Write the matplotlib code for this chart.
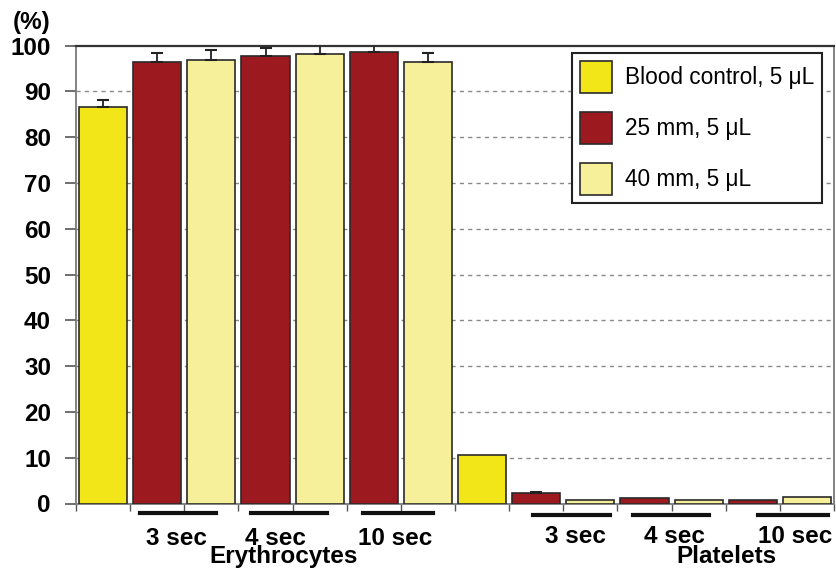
import matplotlib
matplotlib.use("Agg")
import matplotlib.pyplot as plt
from matplotlib.patches import Patch
import numpy as np

plt.rcParams['font.family'] = ['Liberation Sans', 'DejaVu Sans']

# ---- data ----
series = ["Blood control, 5 \u03bcL", "25 mm, 5 \u03bcL", "40 mm, 5 \u03bcL"]
colors = ["#F2E619", "#9C1A1F", "#F6F09A"]
cell_groups = ["Erythrocytes", "Platelets"]
times = ["3 sec", "4 sec", "10 sec"]

# bar order within each cell group: control, 25mm 3s, 40mm 3s, 25mm 4s, 40mm 4s, 25mm 10s, 40mm 10s
ery_values = [86.6, 96.4, 96.9, 97.7, 98.2, 98.6, 96.4]
ery_errors = [1.6, 1.9, 2.1, 1.8, 2.1, 1.9, 1.9]
plt_values = [10.6, 2.4, 0.8, 1.1, 0.8, 0.8, 1.5]
plt_errors = [0.0, 0.1, 0.0, 0.0, 0.0, 0.0, 0.0]
series_index = [0, 1, 2, 1, 2, 1, 2]

yticks = [0, 10, 20, 30, 40, 50, 60, 70, 80, 90, 100]

values = ery_values + plt_values
errors = ery_errors + plt_errors
bar_colors = [colors[s] for s in series_index] * 2
x = np.arange(len(values))

FS = 17.5

fig = plt.figure(figsize=(8.36, 5.70), dpi=100)
ax = fig.add_axes([76/836, 1-503.5/570, (834-76)/836, (503.5-45.7)/570])

ax.bar(x, values, width=0.89, color=bar_colors, edgecolor="#2a2a2a", linewidth=1.2, zorder=3)
err_mask = np.array(errors) > 0
ax.errorbar(x[err_mask], np.array(values)[err_mask], yerr=[np.zeros(err_mask.sum()), np.array(errors)[err_mask]],
            fmt="none", ecolor="#222222", elinewidth=1.3, capsize=4, capthick=1.5, zorder=4)

ax.set_xlim(-0.5, len(values) - 0.5)
ax.set_ylim(0, 100)
ax.set_yticks(yticks)
ax.set_yticklabels([str(t) for t in yticks], fontsize=FS, fontweight="bold")
for t in yticks[1:-1]:
    ax.axhline(t, color="#8a8a8a", linestyle=(0, (3, 3)), linewidth=1.0, zorder=1)

ax.set_xticks(np.arange(len(values) + 1) - 0.5)
ax.set_xticklabels([])
ax.tick_params(axis="x", direction="out", length=5, color="#555555", width=1)
ax.tick_params(axis="y", direction="out", length=8, color="#555555", width=1.2, pad=10)

for s in ["left", "bottom", "right"]:
    ax.spines[s].set_color("#7a7a7a")
    ax.spines[s].set_linewidth(1.3)
ax.spines["top"].set_color("#333333")
ax.spines["top"].set_linewidth(1.6)

# group annotations under the axis
trans = ax.get_xaxis_transform()
ery_lines = [(0.68, 2.09), (2.73, 4.14), (4.80, 6.09)]
ery_text = [1.35, 3.18, 5.39]
plt_lines = [(7.94, 9.36), (9.79, 11.19), (12.10, 13.39)]
plt_text = [8.72, 10.56, 12.78]
for (a, b), tx, lab in zip(ery_lines, ery_text, times):
    ax.plot([a, b], [-0.021, -0.021], color="#111111", lw=3, transform=trans, clip_on=False)
    ax.text(tx, -0.090, lab, transform=trans, ha="center", va="baseline", fontsize=FS, fontweight="bold")
for (a, b), tx, lab in zip(plt_lines, plt_text, times):
    ax.plot([a, b], [-0.025, -0.025], color="#111111", lw=3, transform=trans, clip_on=False)
    ax.text(tx, -0.086, lab, transform=trans, ha="center", va="baseline", fontsize=FS, fontweight="bold")
ax.text(3.34, -0.130, cell_groups[0], transform=trans, ha="center", va="baseline", fontsize=FS, fontweight="bold")
ax.text(11.52, -0.130, cell_groups[1], transform=trans, ha="center", va="baseline", fontsize=FS, fontweight="bold")

fig.text(32/836, 1-23/570, "(%)", ha="center", va="center", fontsize=FS, fontweight="bold")

handles = [Patch(facecolor=c, edgecolor="#2a2a2a", linewidth=1.2) for c in colors]
leg = ax.legend(handles, series, loc="upper left", bbox_to_anchor=((572-76)/758, 0.984),
                fontsize=16.3, frameon=True, fancybox=False, edgecolor="#222222",
                handlelength=1.4, handleheight=1.8, handletextpad=0.6,
                labelspacing=0.84, borderpad=0.35, borderaxespad=0)
leg.get_frame().set_linewidth(1.5)
leg.get_frame().set_alpha(1)

fig.savefig("out.png", dpi=100)
